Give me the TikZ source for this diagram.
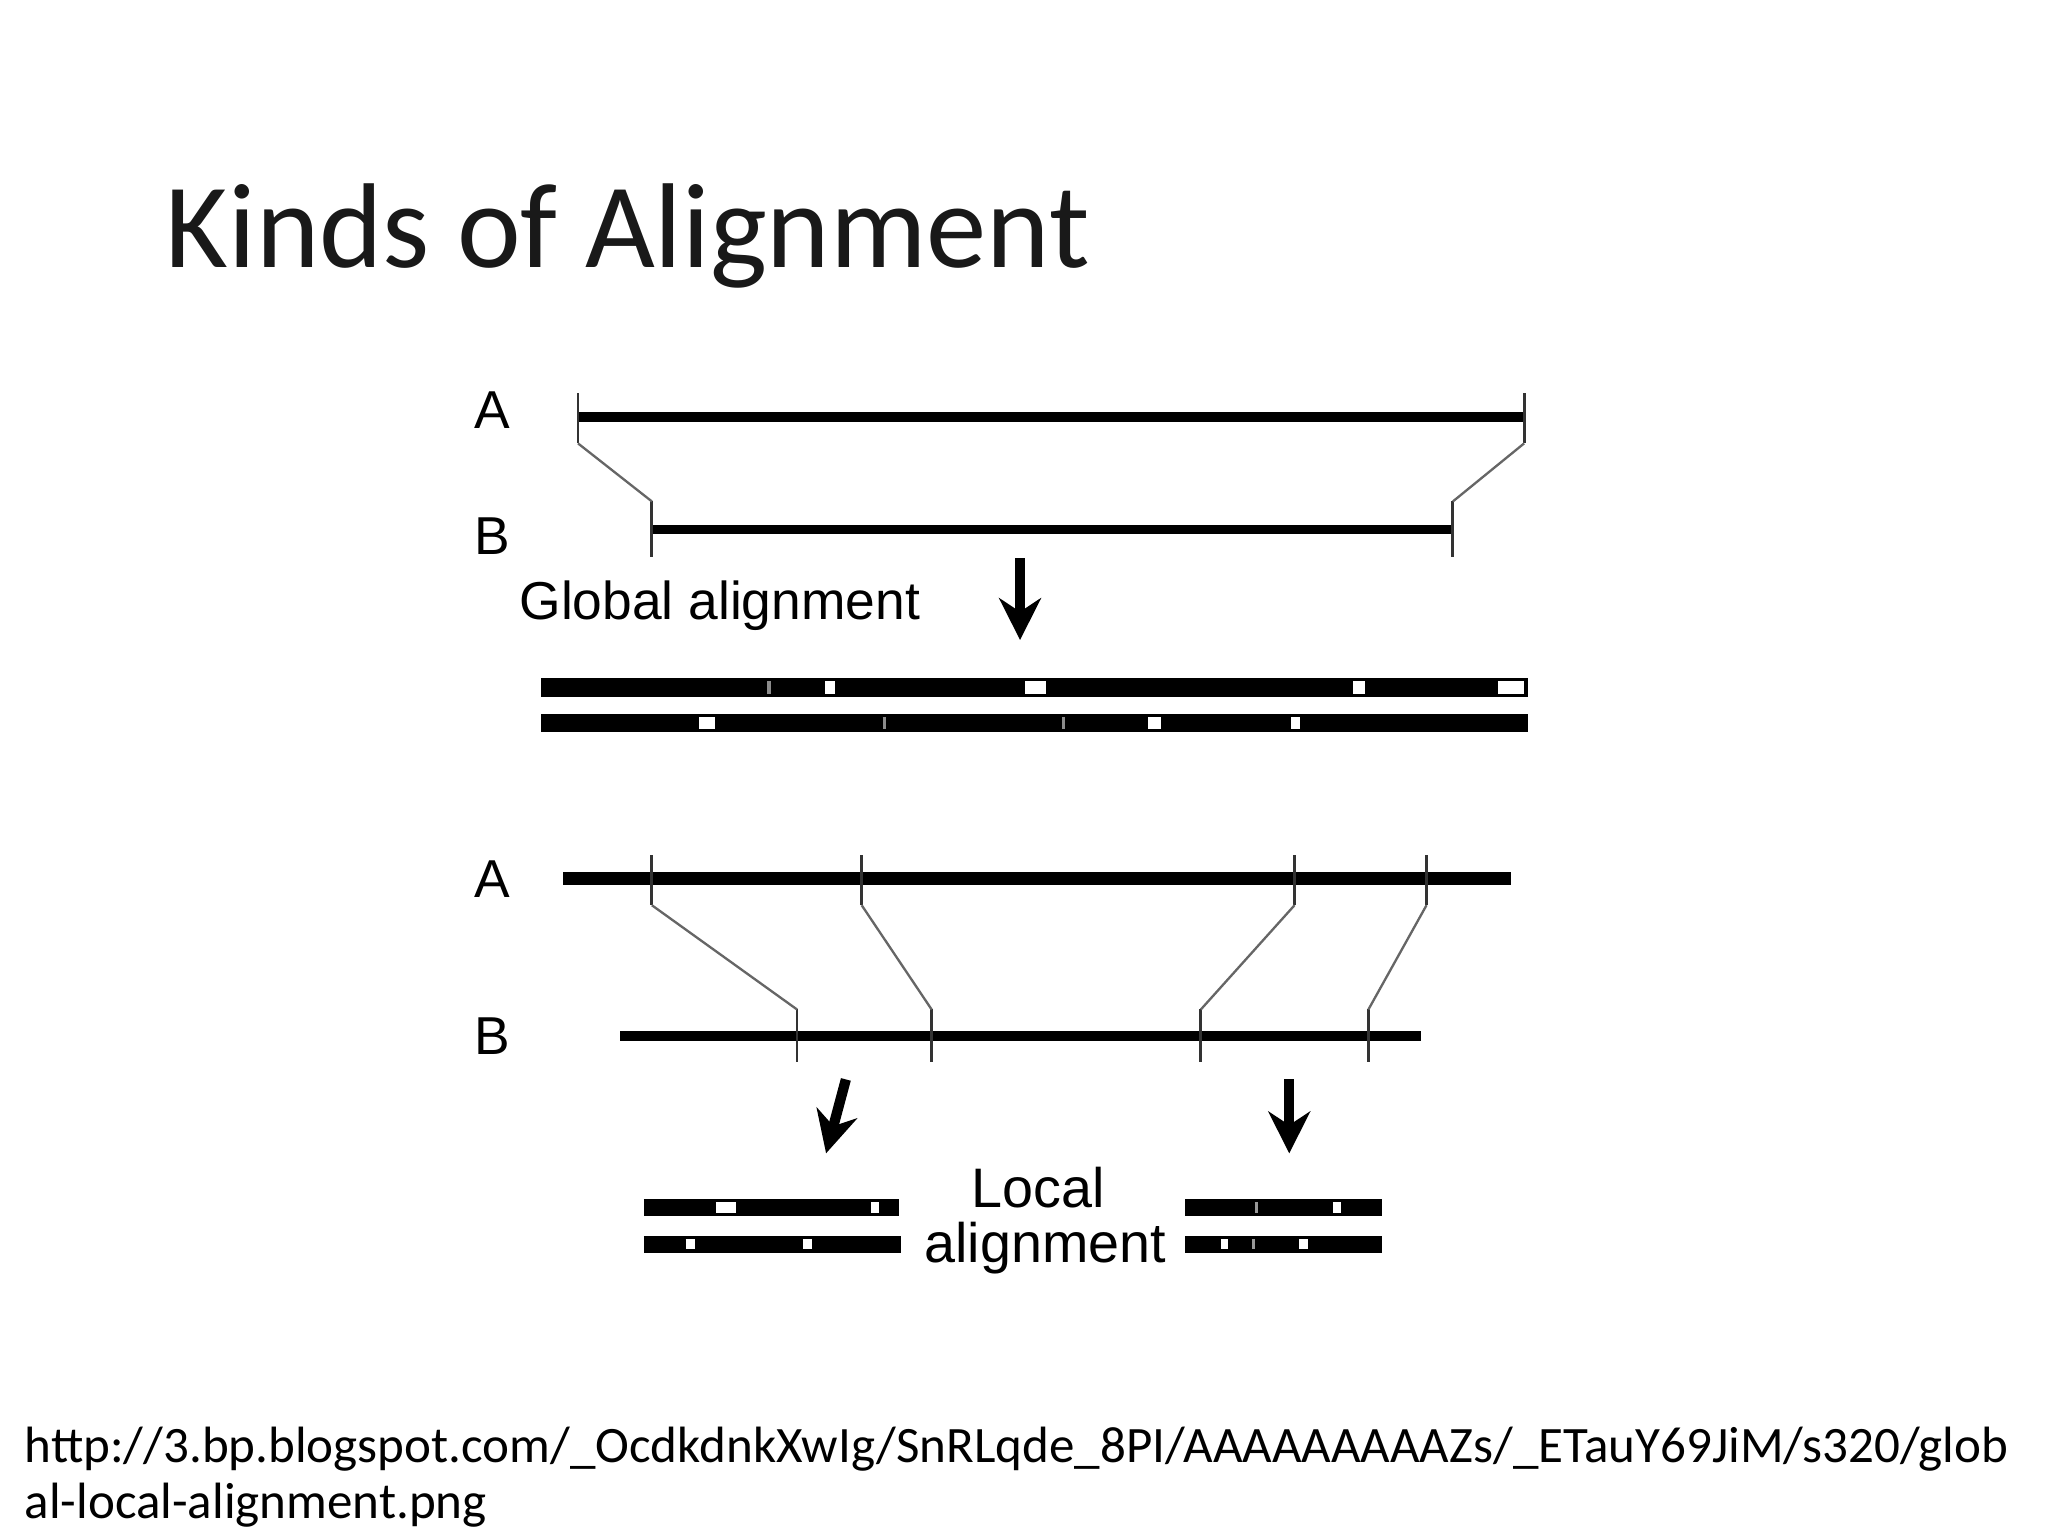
\documentclass[tikz,border=0pt]{standalone}
\usepackage{fontspec}
\setmainfont{Carlito}
\newfontfamily\hv{Liberation Sans}
\begin{document}
\begin{tikzpicture}[x=0.01cm,y=-0.01cm,
  seq/.style={line width=2.2pt,black},
  seqthin/.style={line width=1.9pt,black},
  tick/.style={line width=0.6pt,black!80},
  conn/.style={line width=0.5pt,black!60},
  lab/.style={font=\hv\fontsize{11.5}{14}\selectfont,inner sep=0pt},
  arr/.style={line width=2.2pt,-{Stealth[length=9pt,width=9pt]}}]
\useasboundingbox (0,0) rectangle (1552,1164);
\usetikzlibrary{arrows.meta}
\node[anchor=base west,inner sep=0pt,font=\fontsize{26}{30}\selectfont,text=black!90] (title) at (125,203) {Kinds of Alignment};
% global
\node[lab] (gA) at (373,311) {A};
\node[lab] (gB) at (373,406) {B};
\draw[seq] (438,316) -- (1155,316);
\draw[tick] (438,298) coordinate (a1t) -- (438,336) coordinate (a1);
\draw[tick] (1155,298) -- (1155,336) coordinate (a2);
\draw[seqthin] (494,401) -- (1101,401);
\draw[tick] (494,380) coordinate (b1) -- (494,422);
\draw[tick] (1101,380) coordinate (b2) -- (1101,422);
\draw[conn] (a1) -- (b1); \draw[conn] (a2) -- (b2);
\node[lab,anchor=west] (glob) at (393,459) {Global alignment};
\coordinate (ga0) at (773,423); \coordinate (ga1) at (773,485);
\draw[arr] (ga0) -- (ga1);
\draw[line width=4pt,black] (410,521) -- (1158,521);
\draw[line width=4pt,black] (410,548) -- (1158,548);
\foreach \x/\w in {629/7,785/16,1030/9,1145/20} \draw[white,line width=2.6pt] (\x-\w/2,521) -- (\x+\w/2,521);
\foreach \x in {583} \draw[black!45,line width=2.6pt] (\x-1.5,521) -- (\x+1.5,521);
\foreach \x/\w in {536/12,875/10,982/7} \draw[white,line width=2.6pt] (\x-\w/2,548) -- (\x+\w/2,548);
\foreach \x in {670,806} \draw[black!45,line width=2.6pt] (\x-1.2,548) -- (\x+1.2,548);
% local
\node[lab] (lA) at (373,666) {A};
\node[lab] (lB) at (373,785) {B};
\draw[line width=2.8pt] (427,666) -- (1145,666);
\draw[line width=2.3pt] (470,785) -- (1077,785);
\foreach \x [count=\i] in {494,653,981,1081} \draw[tick] (\x,648) -- (\x,686) coordinate (t\i);
\foreach \x [count=\i] in {604,706,910,1037} \draw[tick] (\x,765) coordinate (u\i) -- (\x,805);
\foreach \i in {1,2,3,4} \draw[conn] (t\i) -- (u\i);
\coordinate (la0) at (641,818); \coordinate (la1) at (626,874);
\draw[arr] (la0) -- (la1);
\coordinate (ra0) at (977,818); \coordinate (ra1) at (977,874);
\draw[arr] (ra0) -- (ra1);
\draw[line width=3.5pt] (488,915) -- (681,915);
\draw[line width=3.5pt] (488,943) -- (683,943);
\draw[line width=3.5pt] (898,915) -- (1047,915);
\draw[line width=3.5pt] (898,943) -- (1047,943);
\foreach \x/\w/\y in {550/15/915,663/6/915,523/7/943,612/7/943,1013/6/915,928/5/943,988/7/943}
  \draw[white,line width=2.2pt] (\x-\w/2,\y) -- (\x+\w/2,\y);
\foreach \x/\y in {952/915,950/943} \draw[black!40,line width=2.2pt] (\x-1.2,\y) -- (\x+1.2,\y);
\node[lab,font=\hv\fontsize{12}{14}\selectfont] (loc1) at (787,900) {Local};
\node[lab,font=\hv\fontsize{12}{14}\selectfont] (loc2) at (792,946) {alignment};
% url
\node[anchor=base west,inner sep=0pt,font=\fontsize{11}{13}\selectfont] (u1) at (18,1108) {http://3.bp.blogspot.com/\_OcdkdnkXwIg/SnRLqde\_8PI/AAAAAAAAAZs/\_ETauY69JiM/s320/glob};
\node[anchor=base west,inner sep=0pt,font=\fontsize{11}{13}\selectfont] (u2) at (18,1151) {al-local-alignment.png};
\end{tikzpicture}
\end{document}
